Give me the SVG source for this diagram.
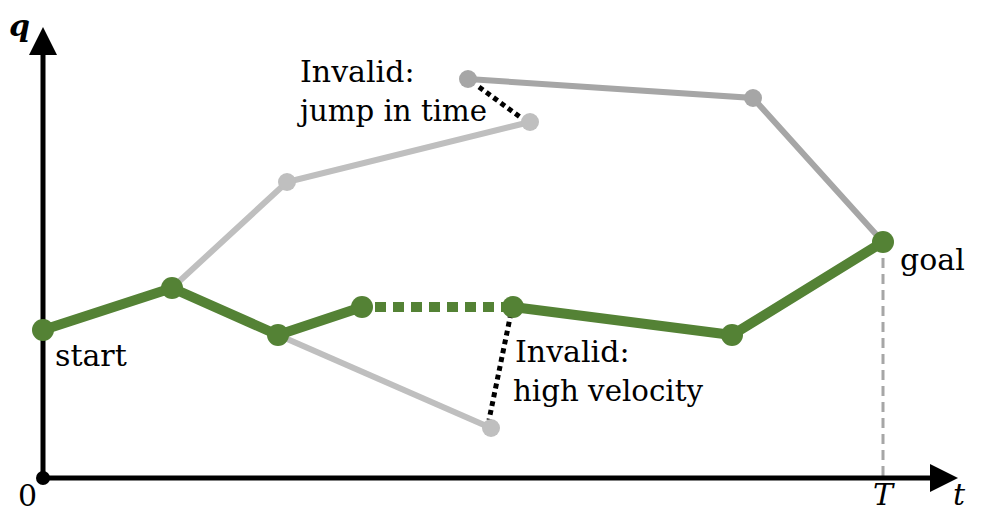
<svg xmlns="http://www.w3.org/2000/svg" width="982" height="522" viewBox="0 0 982 522">
<style>
.lbl{font-family:"DejaVu Serif","Liberation Serif",serif;font-size:30px;fill:#000}
.math{font-family:"DejaVu Serif","Liberation Serif",serif;font-style:italic;font-size:30px;fill:#000}
.green{stroke:#548235;stroke-width:10;fill:none;stroke-linejoin:round}
.lg{stroke:#bfbfbf;stroke-width:6;fill:none}
.dg{stroke:#a6a6a6;stroke-width:6;fill:none}
.vdash{stroke:#a6a6a6;stroke-width:3;stroke-dasharray:10 6;fill:none}
.dot{stroke:#000;stroke-width:5;stroke-dasharray:5 4;fill:none}
.gn{fill:#548235}
.ln{fill:#bfbfbf}
.dn{fill:#a6a6a6}
</style>
<rect width="982" height="522" fill="#fff"/>
<g id="connectors">
<line class="vdash" x1="883" y1="242" x2="883" y2="478"/>
<polyline class="lg" points="172,288 287,182 530,122"/>
<polyline class="lg" points="278,335 491,428"/>
<polyline class="dg" points="468,79 753,98 883,242"/>
<line class="dot" x1="479" y1="87" x2="520" y2="117"/>
<line class="dot" x1="511" y1="313" x2="489" y2="420"/>
<polyline class="green" points="43,330 172,288 278,335 362,307"/>
<line class="green" x1="362" y1="307" x2="513" y2="307" stroke-dasharray="11 7" stroke-dashoffset="-13"/>
<polyline class="green" points="513,307 732,335 883,242"/>
</g>
<g id="axes">
<line x1="43" y1="478" x2="43" y2="50" stroke="#000" stroke-width="5"/>
<polygon points="43,27 29,55 57,55" fill="#000"/>
<line x1="43" y1="478" x2="935" y2="478" stroke="#000" stroke-width="5"/>
<polygon points="958,478 930,464 930,492" fill="#000"/>
<circle cx="43" cy="478" r="7" fill="#000"/>
<text class="lbl" x="18" y="506">0</text>
<text class="math" x="873" y="505">T</text>
<text class="math" x="953" y="505">t</text>
<text class="math" x="9" y="36" font-weight="bold">q</text>
</g>
<g id="node-light-1"><circle class="ln" cx="287" cy="182" r="9"/></g>
<g id="node-light-2"><circle class="ln" cx="530" cy="122" r="9"/></g>
<g id="node-light-3"><circle class="ln" cx="491" cy="428" r="9"/></g>
<g id="node-dark-1"><circle class="dn" cx="468" cy="79" r="9"/></g>
<g id="node-dark-2"><circle class="dn" cx="753" cy="98" r="9"/></g>
<g id="node-start"><circle class="gn" cx="43" cy="330" r="11"/><text class="lbl" x="55" y="366">start</text></g>
<g id="node-g2"><circle class="gn" cx="172" cy="288" r="11"/></g>
<g id="node-g3"><circle class="gn" cx="278" cy="335" r="11"/></g>
<g id="node-g4"><circle class="gn" cx="362" cy="307" r="11"/></g>
<g id="node-g5"><circle class="gn" cx="513" cy="307" r="11"/></g>
<g id="node-g6"><circle class="gn" cx="732" cy="335" r="11"/></g>
<g id="node-goal"><circle class="gn" cx="883" cy="242" r="11"/><text class="lbl" x="900" y="270">goal</text></g>
<g id="label-jump">
<text class="lbl" x="300" y="82">Invalid:</text>
<text class="lbl" x="300" y="121" textLength="187" lengthAdjust="spacingAndGlyphs">jump in time</text>
</g>
<g id="label-velocity">
<text class="lbl" x="515" y="362">Invalid:</text>
<text class="lbl" x="513" y="401" textLength="190" lengthAdjust="spacingAndGlyphs">high velocity</text>
</g>
</svg>
